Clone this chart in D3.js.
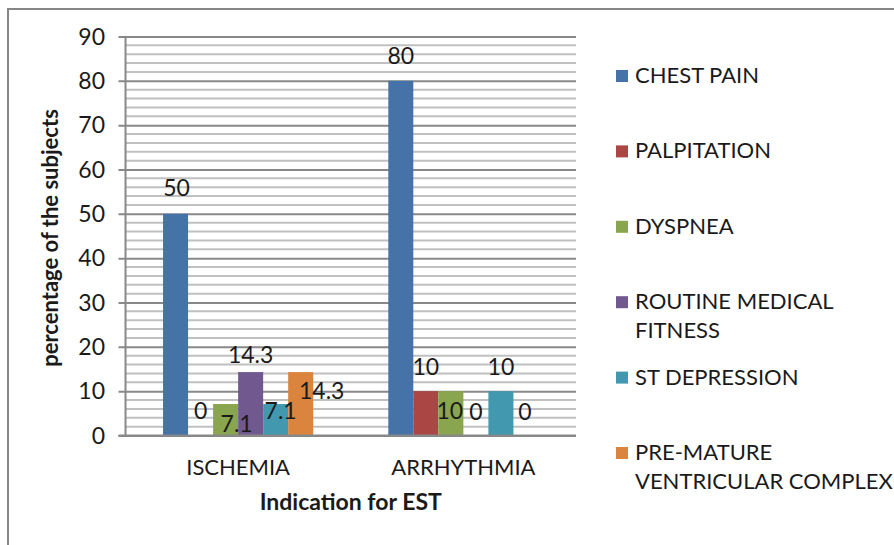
<!DOCTYPE html>
<html>
<head>
<meta charset="utf-8">
<script src="https://cdn.jsdelivr.net/npm/d3@7"></script>
<style>
  body { margin: 0; background: #fff; }
  text { font-family: Lato, "Open Sans", sans-serif; fill: #1a1a1a; }
</style>
</head>
<body>
<div id="chart"></div>
<script>
// values
let categories = ["ISCHEMIA", "ARRHYTHMIA"];
let series = ["CHEST PAIN", "PALPITATION", "DYSPNEA", "ROUTINE MEDICAL FITNESS", "ST DEPRESSION", "PRE-MATURE VENTRICULAR COMPLEX"];
let ischemia = [50, 0, 7.1, 14.3, 7.1, 14.3];
let arrhythmia = [80, 10, 10, 0, 10, 0];
let yTicks = [0, 10, 20, 30, 40, 50, 60, 70, 80, 90];

let values = [ischemia, arrhythmia];
let colors = ["#4572A7", "#AA4643", "#89A54E", "#71588F", "#4198AF", "#DB843D"];
// legend wraps these labels onto two lines
let legendLines = [["CHEST PAIN"], ["PALPITATION"], ["DYSPNEA"], ["ROUTINE MEDICAL", "FITNESS"], ["ST DEPRESSION"], ["PRE-MATURE", "VENTRICULAR COMPLEX"]];

let width = 894, height = 545,
    margin = ({ top: 36.5, right: 318, bottom: 110.5, left: 125.5 });

const svg = d3.select("#chart")
  .append("svg")
  .attr("width", width)
  .attr("height", height);

// outer frame (only top and left edges show in the crop)
svg.append("rect")
  .attr("x", 8).attr("y", 9)
  .attr("width", 950).attr("height", 600)
  .attr("fill", "none")
  .attr("stroke", "#868686")
  .attr("stroke-width", 2);

let x0 = d3.scaleBand()
  .domain(categories)
  .range([margin.left, width - margin.right])
  .paddingInner(1 / 3)
  .paddingOuter(1 / 6);

let x1 = d3.scaleBand()
  .domain(series)
  .range([0, x0.bandwidth()]);

let y = d3.scaleLinear()
  .domain([0, 90])
  .range([height - margin.bottom + 1, margin.top]);

let left = margin.left, right = width - margin.right;

// minor gridlines every 2
svg.append("g")
  .selectAll("line")
  .data(d3.range(2, 90, 2).filter(d => d % 10 !== 0))
  .join("line")
  .attr("x1", left).attr("x2", right)
  .attr("y1", d => y(d)).attr("y2", d => y(d))
  .attr("stroke", "#c0c0c0")
  .attr("stroke-width", 2);

// major gridlines + ticks
svg.append("g")
  .attr("transform", `translate(${right},0)`)
  .call(d3.axisLeft(y).tickValues(yTicks).tickSize(right - left + 7).tickFormat(""))
  .call(g => g.select(".domain").remove())
  .call(g => g.selectAll("line").attr("stroke", "#888").attr("stroke-width", 2));

// y axis line
svg.append("line")
  .attr("x1", left).attr("x2", left)
  .attr("y1", y(90)).attr("y2", y(0))
  .attr("stroke", "#888")
  .attr("stroke-width", 2);

// y tick labels
svg.append("g")
  .selectAll("text")
  .data(yTicks)
  .join("text")
  .attr("x", 105)
  .attr("y", d => y(d) + 8)
  .attr("text-anchor", "end")
  .attr("font-size", 23)
  .text(d => d);

// bars
let groups = svg.append("g")
  .selectAll("g")
  .data(categories)
  .join("g")
  .attr("transform", d => `translate(${x0(d)},0)`);

groups.selectAll("rect")
  .data((d, i) => values[i].map((v, j) => ({ key: series[j], value: v, color: colors[j] })))
  .join("rect")
  .attr("x", d => x1(d.key))
  .attr("width", x1.bandwidth())
  .attr("y", d => y(d.value))
  .attr("height", d => y(0) - y(d.value))
  .attr("fill", d => d.color);

// data labels, nudged as in the picture [dx, dy] from bar top centre
let nudge = [
  [[1, -26], [0, -25], [11, 20], [0, -17], [5, 7], [21, 19]],
  [[0, -25], [0, -24], [-1, 20], [0, -24], [0, -24], [-1, -24]]
];

groups.selectAll("text")
  .data((d, i) => values[i].map((v, j) => ({ key: series[j], value: v, n: nudge[i][j] })))
  .join("text")
  .attr("x", d => x1(d.key) + x1.bandwidth() / 2 + d.n[0])
  .attr("y", d => y(d.value) + d.n[1] + 8)
  .attr("text-anchor", "middle")
  .attr("font-size", 23)
  .text(d => d.value);

// x axis line
svg.append("line")
  .attr("x1", left - 7).attr("x2", right)
  .attr("y1", y(0)).attr("y2", y(0))
  .attr("stroke", "#888")
  .attr("stroke-width", 2);

// category labels
svg.append("g")
  .selectAll("text")
  .data(categories)
  .join("text")
  .attr("x", d => x0(d) + x0.bandwidth() / 2)
  .attr("y", 475)
  .attr("text-anchor", "middle")
  .attr("font-size", 22)
  .text(d => d);

// axis titles
svg.append("text")
  .attr("x", (left + right) / 2)
  .attr("y", 510)
  .attr("text-anchor", "middle")
  .attr("font-size", 23)
  .attr("font-weight", "bold")
  .text("Indication for EST");

svg.append("text")
  .attr("transform", `translate(58,${(y(0) + y(90)) / 2 + 2}) rotate(-90)`)
  .attr("text-anchor", "middle")
  .attr("font-size", 22)
  .attr("font-weight", "bold")
  .text("percentage of the subjects");

// legend
let legend = svg.append("g")
  .selectAll("g")
  .data(series)
  .join("g")
  .attr("transform", (d, i) => `translate(616,${70 + i * 75.4})`);

legend.append("rect")
  .attr("width", 12)
  .attr("height", 12)
  .attr("fill", (d, i) => colors[i]);

legend.append("text")
  .attr("x", 19)
  .attr("font-size", 22)
  .selectAll("tspan")
  .data((d, i) => legendLines[i])
  .join("tspan")
  .attr("x", 19)
  .attr("y", (d, k) => 13 + k * 29)
  .text(d => d);
</script>
</body>
</html>
